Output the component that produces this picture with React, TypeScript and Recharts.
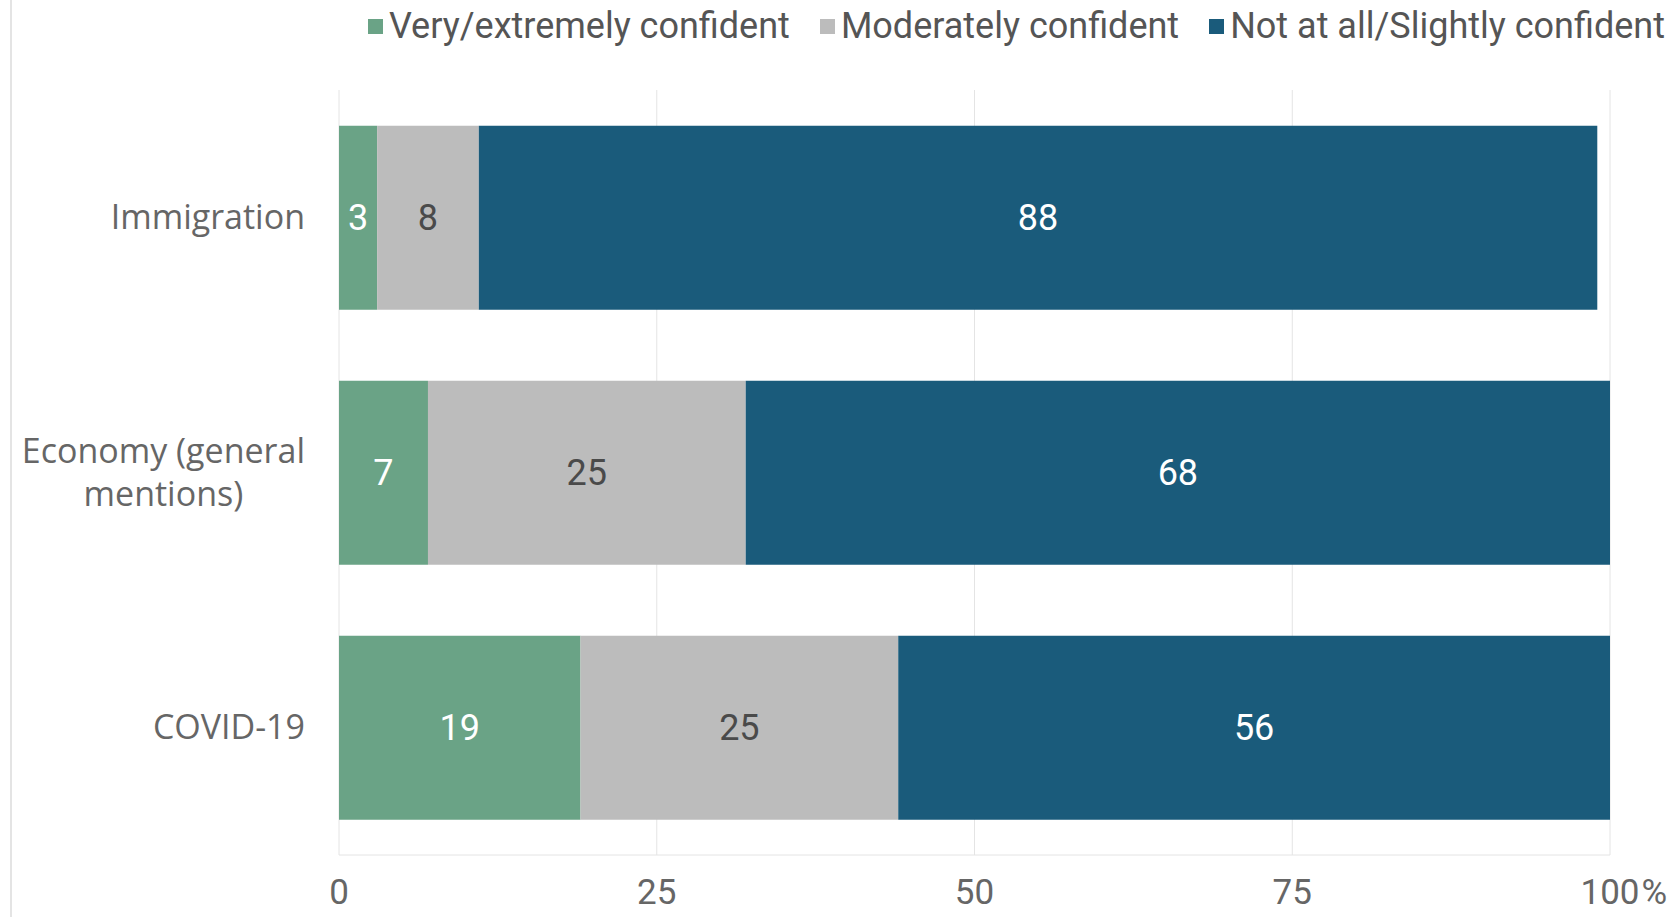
import { BarChart, Bar, XAxis, YAxis, CartesianGrid, Legend, LabelList } from 'recharts';

const categories = ['Immigration', 'Economy (general mentions)', 'COVID-19'];
const veryConfident = [3, 7, 19];
const moderatelyConfident = [8, 25, 25];
const notConfident = [88, 68, 56];
const xTicks = [0, 25, 50, 75, 100];

const seriesNames = ['Very/extremely confident', 'Moderately confident', 'Not at all/Slightly confident'];
const seriesColors = ['#6aa386', '#bcbcbc', '#1a5b7b'];
const labelColors = ['#ffffff', '#4a4a4a', '#ffffff'];

const data = categories.map((name, i) => ({
    name,
    very: veryConfident[i],
    moderate: moderatelyConfident[i],
    notAtAll: notConfident[i],
}));

const Y_FONT = '"Open Sans", sans-serif';
const NUM_FONT = 'Roboto, sans-serif';

let ctx: CanvasRenderingContext2D | null = null;
const measure = (text: string, font: string) => {
    if (!ctx) ctx = document.createElement('canvas').getContext('2d');
    if (!ctx) return text.length * 18;
    ctx.font = font;
    return ctx.measureText(text).width;
};

const wrapText = (text: string, maxWidth: number, font: string) => {
    const words = text.split(' ');
    const lines: string[] = [];
    let cur = '';
    words.forEach((w) => {
        const next = cur ? cur + ' ' + w : w;
        if (cur && measure(next, font) > maxWidth) {
            lines.push(cur);
            cur = w;
        } else {
            cur = next;
        }
    });
    if (cur) lines.push(cur);
    return lines;
};

const CategoryTick = ({ x, y, payload }: any) => {
    const font = `34px ${Y_FONT}`;
    const lines = wrapText(payload.value, 300, font);
    const block = Math.max(...lines.map((l) => measure(l, font)));
    const cx = x - block / 2;
    const lh = 43;
    const startY = y - ((lines.length - 1) * lh) / 2;
    return (
        <text textAnchor="middle" fontFamily={Y_FONT} fontSize={34} fill="#666">
            {lines.map((l, i) => (
                <tspan key={i} x={cx} y={startY + i * lh} dy="0.35em">
                    {l}
                </tspan>
            ))}
        </text>
    );
};

const ValueTick = ({ x, y, payload }: any) => {
    const label = String(payload.value);
    const half = measure(label, `35px ${NUM_FONT}`) / 2;
    return (
        <g>
            <text x={x} y={y + 35} dy="0.35em" textAnchor="middle" fontFamily={NUM_FONT} fontSize={35} fill="#666">
                {label}
            </text>
            {payload.value === 100 && (
                <text x={x + half + 2} y={y + 35} dy="0.35em" textAnchor="start" fontFamily={NUM_FONT} fontSize={35} fill="#666">
                    %
                </text>
            )}
        </g>
    );
};

const LegendContent = () => (
    <div style={{ display: 'flex', alignItems: 'center', gap: 30, height: 52, whiteSpace: 'nowrap', fontFamily: NUM_FONT, fontSize: 36, color: '#555' }}>
        {seriesNames.map((n, i) => (
            <span key={n} style={{ display: 'flex', alignItems: 'center', gap: 6 }}>
                <span style={{ width: 15, height: 15, background: seriesColors[i], display: 'inline-block' }} />
                {n}
            </span>
        ))}
    </div>
);

export default function App() {
    const keys = ['very', 'moderate', 'notAtAll'];
    return (
        <div style={{ position: 'absolute', left: 0, top: 0, width: 1674, height: 917, background: '#fff' }}>
            <div style={{ position: 'absolute', left: 10, top: 0, width: 2, height: 917, background: '#e4e4e4' }} />
            <BarChart
                width={1674}
                height={917}
                data={data}
                layout="vertical"
                margin={{ top: 38, right: 64, bottom: 0, left: 0 }}
                barCategoryGap="14%"
            >
                <CartesianGrid horizontal={false} stroke="#e4e4e4" />
                <XAxis
                    type="number"
                    domain={[0, 100]}
                    ticks={xTicks}
                    height={62}
                    tick={<ValueTick />}
                    tickLine={false}
                    tickSize={0}
                    axisLine={{ stroke: '#e4e4e4' }}
                />
                <YAxis
                    type="category"
                    dataKey="name"
                    width={339}
                    tick={<CategoryTick />}
                    tickLine={false}
                    axisLine={false}
                    tickSize={0}
                    tickMargin={34}
                />
                <Legend
                    verticalAlign="top"
                    align="right"
                    content={<LegendContent />}
                    wrapperStyle={{ top: 0, right: 9, left: 'auto', width: 'auto' }}
                />
                {keys.map((k, i) => (
                    <Bar key={k} dataKey={k} name={seriesNames[i]} stackId="a" fill={seriesColors[i]} isAnimationActive={false}>
                        <LabelList dataKey={k} position="center" fill={labelColors[i]} fontFamily={NUM_FONT} fontSize={36} />
                    </Bar>
                ))}
            </BarChart>
        </div>
    );
}
